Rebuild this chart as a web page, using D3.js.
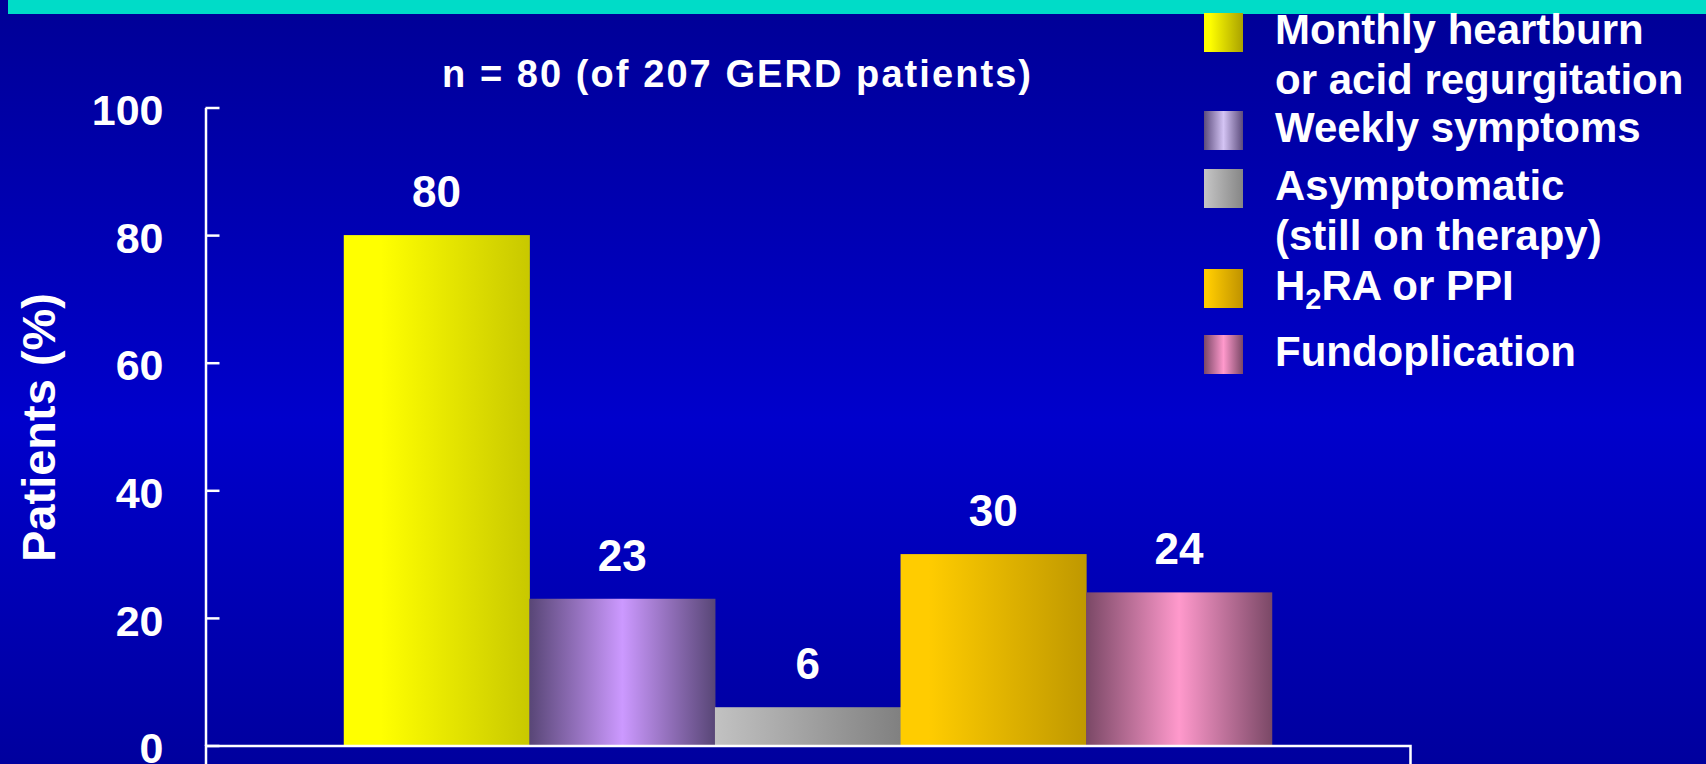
<!DOCTYPE html>
<html>
<head>
<meta charset="utf-8">
<script src="https://cdn.jsdelivr.net/npm/d3@7"></script>
<style>
  html, body { margin: 0; padding: 0; overflow: hidden; background: #0000aa; }
  text { font-family: Arial, "Liberation Sans", sans-serif; font-weight: bold; fill: #ffffff; }
</style>
</head>
<body>
<div id="chart"></div>
<script>
// data
var seriesNames = ["Monthly heartburn or acid regurgitation", "Weekly symptoms",
                   "Asymptomatic (still on therapy)", "H2RA or PPI", "Fundoplication"];
var seriesValues = [80, 23, 6, 30, 24];
var legendLines = [["Monthly heartburn", "or acid regurgitation"],
                   ["Weekly symptoms"],
                   ["Asymptomatic", "(still on therapy)"],
                   ["H2RA or PPI"],
                   ["Fundoplication"]];
var yTicks = [0, 20, 40, 60, 80, 100];
var chartTitle = "n = 80 (of 207 GERD patients)";
var yTitle = "Patients (%)";

// bar fills (left -> right shading)
var barStops = [
  [[0, "#ffff00"], [0.2, "#ffff00"], [1, "#c8c800"]],
  [[0, "#584676"], [0.5, "#cc99ff"], [1, "#584676"]],
  [[0, "#c2c2c2"], [1, "#808080"]],
  [[0, "#ffcc00"], [0.15, "#ffcc00"], [1, "#bf9800"]],
  [[0, "#7a4866"], [0.5, "#ff99cc"], [1, "#7a4866"]]
];
// legend swatch fills
var swatchStops = [
  [[0, "#ffff00"], [0.15, "#ffff00"], [1, "#aaa200"]],
  [[0, "#5c4c7c"], [0.5, "#d4c4f4"], [1, "#5c4c7c"]],
  [[0, "#c6c6c6"], [1, "#868686"]],
  [[0, "#ffcc00"], [0.1, "#ffcc00"], [1, "#bf9200"]],
  [[0, "#7a4866"], [0.5, "#ff99cc"], [1, "#7a4866"]]
];

var svgWidth = 1706, svgHeight = 764;
var margin = {top: 107.5, left: 205.5, bottom: 18.5, right: 296};
var chartwidth = svgWidth - margin.left - margin.right,
    chartheight = svgHeight - margin.top - margin.bottom;

var svg = d3.select("#chart")
  .append("svg")
    .attr("width", svgWidth)
    .attr("height", svgHeight);

var defs = svg.append("defs");

var bg = defs.append("linearGradient")
    .attr("id", "bg")
    .attr("x1", 0).attr("y1", 0).attr("x2", 0).attr("y2", 1);
bg.append("stop").attr("offset", 0).attr("stop-color", "#000096");
bg.append("stop").attr("offset", 0.55).attr("stop-color", "#0000cc");
bg.append("stop").attr("offset", 1).attr("stop-color", "#00009e");

function addGradient(id, stops) {
  var g = defs.append("linearGradient")
      .attr("id", id)
      .attr("x1", 0).attr("y1", 0).attr("x2", 1).attr("y2", 0);
  stops.forEach(function(s) {
    g.append("stop").attr("offset", s[0]).attr("stop-color", s[1]);
  });
}
barStops.forEach(function(stops, i) { addGradient("bar" + i, stops); });
swatchStops.forEach(function(stops, i) { addGradient("sw" + i, stops); });

// background + teal band
svg.append("rect")
  .attr("width", svgWidth).attr("height", svgHeight)
  .attr("fill", "url(#bg)");
svg.append("rect")
  .attr("x", 8).attr("y", 0)
  .attr("width", svgWidth - 8).attr("height", 14)
  .attr("fill", "#00dcc8");

var chart = svg.append("g")
  .attr("transform", "translate(" + margin.left + "," + margin.top + ")");

// scales
var x0 = d3.scaleBand()
  .domain(["all"])
  .range([0, chartwidth])
  .paddingInner(0)
  .paddingOuter(0.149);

var x1 = d3.scaleBand()
  .domain(seriesNames)
  .range([0, x0.bandwidth()]);

var y = d3.scaleLinear()
  .domain([0, 100])
  .range([chartheight, 0]);

// bars
var bars = chart.append("g")
  .attr("transform", "translate(" + x0("all") + ",0)");

bars.selectAll("rect")
  .data(seriesValues)
  .enter().append("rect")
    .attr("x", function(d, i) { return x1(seriesNames[i]); })
    .attr("y", function(d) { return y(d); })
    .attr("width", x1.bandwidth() + 0.5)
    .attr("height", function(d) { return chartheight - y(d); })
    .attr("fill", function(d, i) { return "url(#bar" + i + ")"; });

bars.selectAll("text.val")
  .data(seriesValues)
  .enter().append("text")
    .attr("class", "val")
    .attr("x", function(d, i) { return x1(seriesNames[i]) + x1.bandwidth() / 2; })
    .attr("y", function(d) { return y(d) - 28; })
    .attr("text-anchor", "middle")
    .attr("font-size", "44px")
    .text(function(d) { return d; });

// y axis
var yAxis = chart.append("g")
  .call(d3.axisLeft(y)
    .tickValues(yTicks)
    .tickSizeInner(-14)
    .tickSizeOuter(0)
    .tickPadding(42));

yAxis.selectAll("text")
  .attr("font-size", "43px")
  .attr("dy", "0.4em")
  .attr("fill", "#fff")
  .attr("font-family", null);

// x axis (no labels, outer ticks point down)
var xAxis = chart.append("g")
  .attr("transform", "translate(0," + chartheight + ")")
  .call(d3.axisBottom(x0)
    .tickSizeInner(0)
    .tickSizeOuter(20)
    .tickFormat(""));
xAxis.selectAll(".tick").remove();

svg.selectAll(".domain, .tick line")
  .attr("stroke", "#ffffff")
  .attr("stroke-width", 2.5);

// titles
svg.append("text")
  .attr("x", 736.5)
  .attr("y", 87)
  .attr("text-anchor", "middle")
  .attr("font-size", "38px")
  .attr("textLength", 589)
  .attr("lengthAdjust", "spacing")
  .text(chartTitle);

svg.append("text")
  .attr("transform", "translate(55," + (margin.top + chartheight / 2 + 1) + ") rotate(-90)")
  .attr("text-anchor", "middle")
  .attr("font-size", "47px")
  .text(yTitle);

// legend
var legendTops = [13, 111, 169, 269, 335];
var legend = svg.append("g");

legendLines.forEach(function(lines, i) {
  legend.append("rect")
    .attr("x", 1204)
    .attr("y", legendTops[i])
    .attr("width", 39)
    .attr("height", 39)
    .attr("fill", "url(#sw" + i + ")");

  lines.forEach(function(line, j) {
    var t = legend.append("text")
      .attr("x", 1275)
      .attr("y", legendTops[i] + 31 + j * 50)
      .attr("font-size", "42px");
    var m = line.match(/^H2(.*)$/);
    if (m) {
      t.append("tspan").text("H");
      t.append("tspan").attr("font-size", "29px").attr("dy", 9).text("2");
      t.append("tspan").attr("dy", -9).text(m[1]);
    } else {
      t.text(line);
    }
  });
});
</script>
</body>
</html>
